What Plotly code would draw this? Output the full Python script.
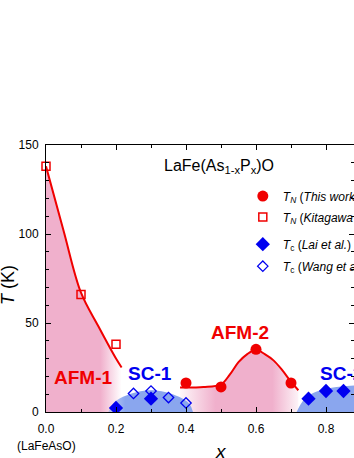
import plotly.graph_objects as go

tn_this_x = [0.4, 0.5, 0.6, 0.7]
tn_this_y = [16.3, 14.1, 35.2, 16.3]
tn_kit_x = [0.0, 0.1, 0.2]
tn_kit_y = [138, 66, 38]
tc_lai_x = [0.2, 0.3, 0.75, 0.8, 0.85]
tc_lai_y = [2.3, 7.5, 7.5, 11.8, 11.8]
tc_wang_x = [0.25, 0.3, 0.35, 0.4]
tc_wang_y = [10.4, 11.8, 8.1, 5.1]

# guide-to-eye curves and phase domes
afm1_x = [0.0, 0.05, 0.1, 0.15, 0.2, 0.216]
afm1_y = [138, 102, 67, 48, 30, 25]
afm2_x = [0.383, 0.42, 0.45, 0.5, 0.525, 0.55, 0.575, 0.6, 0.625, 0.65, 0.675, 0.7, 0.721]
afm2_y = [13.7, 13.8, 14, 15.5, 21, 28, 32.5, 35, 32.5, 29, 23.5, 17, 12.2]
sc1_x = [0.178, 0.19, 0.22, 0.26, 0.3, 0.34, 0.38, 0.41, 0.42]
sc1_y = [0, 4.5, 8.5, 11.3, 12.2, 11.3, 8.5, 4.5, 0]
sc2_x = [0.716, 0.73, 0.745, 0.77, 0.802, 0.83, 0.86, 0.9, 0.95]
sc2_y = [0, 5, 8.5, 11.2, 13, 14, 14.6, 15, 15]

RED = "#f00000"
BLUE = "#0000f0"
PINK = "rgba(240,176,204,1)"
PINK0 = "rgba(240,176,204,0)"
LBLUE = "rgba(138,166,238,1)"
FONT = "Arial, Liberation Sans, sans-serif"

fig = go.Figure()

fig.add_trace(go.Scatter(
    x=afm1_x, y=afm1_y, mode="lines", line=dict(width=0, shape="spline"),
    fill="tozeroy",
    fillgradient=dict(type="horizontal", colorscale=[[0, PINK], [0.72, PINK], [1, PINK0]]),
    showlegend=False, hoverinfo="skip"))
fig.add_trace(go.Scatter(
    x=afm2_x, y=afm2_y, mode="lines", line=dict(width=0, shape="spline"),
    fill="tozeroy",
    fillgradient=dict(type="horizontal", colorscale=[[0, "rgba(240,176,204,0.1)"], [0.3, PINK],
                                                     [0.78, PINK], [1, "rgba(240,176,204,0.15)"]]),
    showlegend=False, hoverinfo="skip"))
fig.add_trace(go.Scatter(
    x=sc1_x, y=sc1_y, mode="lines", line=dict(width=0, shape="spline"),
    fill="tozeroy",
    fillgradient=dict(type="horizontal", colorscale=[[0, "rgba(138,166,238,0.5)"], [0.2, LBLUE], [1, LBLUE]]),
    showlegend=False, hoverinfo="skip"))
fig.add_trace(go.Scatter(
    x=sc2_x, y=sc2_y, mode="lines", line=dict(width=0, shape="spline"),
    fill="tozeroy", fillcolor=LBLUE, showlegend=False, hoverinfo="skip"))

fig.add_trace(go.Scatter(x=afm1_x, y=afm1_y, mode="lines",
                         line=dict(color=RED, width=2, shape="spline"), showlegend=False, hoverinfo="skip"))
fig.add_trace(go.Scatter(x=afm2_x, y=afm2_y, mode="lines",
                         line=dict(color=RED, width=2, shape="spline"), showlegend=False, hoverinfo="skip"))

# T_N entries go in the first legend, T_c entries in the second one
fig.add_trace(go.Scatter(
    x=tn_this_x, y=tn_this_y, mode="markers", legend="legend", legendgroup="a",
    name="<i>T</i><sub><i>N</i></sub> (<i>This work</i>)",
    marker=dict(symbol="circle", size=11, color=RED)))
fig.add_trace(go.Scatter(
    x=tn_kit_x, y=tn_kit_y, mode="markers", legend="legend", legendgroup="b",
    name="<i>T</i><sub><i>N</i></sub> (<i>Kitagawa et al.</i>)",
    marker=dict(symbol="square-open", size=8, color=RED, line=dict(width=1.5, color=RED)), cliponaxis=False))
fig.add_trace(go.Scatter(
    x=tc_lai_x, y=tc_lai_y, mode="markers", legend="legend2", legendgroup="c",
    name="<i>T</i><sub>c</sub> (<i>Lai et al.</i>)",
    marker=dict(symbol="diamond", size=11, color=BLUE)))
fig.add_trace(go.Scatter(
    x=tc_wang_x, y=tc_wang_y, mode="markers", legend="legend2", legendgroup="d",
    name="<i>T</i><sub>c</sub> (<i>Wang et al.</i>)",
    marker=dict(symbol="diamond-open", size=8, color=BLUE, line=dict(width=1.3, color=BLUE))))

labels = [
    ("AFM-1", 0.106, 19.3, RED, "center"),
    ("SC-1", 0.297, 21.8, BLUE, "center"),
    ("AFM-2", 0.554, 44.6, RED, "center"),
    ("SC-2", 0.778, 21.8, BLUE, "left"),
]
for txt, lx, ly, col, anc in labels:
    fig.add_annotation(x=lx, y=ly, text=txt, showarrow=False, xanchor=anc, yanchor="middle",
                       font=dict(family=FONT, size=19, color=col, weight="bold"))

fig.add_annotation(x=0.494, y=138, text="LaFe(As<sub>1-x</sub>P<sub>x</sub>)O", showarrow=False,
                   yanchor="middle", font=dict(family=FONT, size=16, color="black"))
fig.add_annotation(x=0.0, y=-0.127, xref="x", yref="paper", text="(LaFeAsO)", showarrow=False,
                   xanchor="center", yanchor="middle", font=dict(family=FONT, size=12, color="black"))
fig.add_annotation(x=0.5, y=-0.148, xref="x", yref="paper", text="<i>x</i>", showarrow=False,
                   xanchor="center", yanchor="middle", font=dict(family=FONT, size=19, color="black"))
fig.add_annotation(x=-0.123, y=0.476, xref="paper", yref="paper", text="<i>T</i> (K)", showarrow=False,
                   xanchor="center", yanchor="middle", textangle=-90,
                   font=dict(family=FONT, size=18, color="black"))

axis_common = dict(showline=True, linecolor="black", linewidth=1, mirror="ticks",
                   ticks="inside", ticklen=5, tickcolor="black", showgrid=False, zeroline=False,
                   tickfont=dict(family=FONT, size=12, color="black"))
fig.update_xaxes(range=[0, 0.88], dtick=0.2, tick0=0, tickformat=".1f", ticklabelstandoff=6,
                 minor=dict(dtick=0.1, ticks="inside", ticklen=3, tickcolor="black"), **axis_common)
fig.update_yaxes(range=[0, 150], dtick=50, tick0=0, ticklabelstandoff=4,
                 minor=dict(dtick=10, ticks="inside", ticklen=3, tickcolor="black"), **axis_common)

leg = dict(xanchor="left", yanchor="top", bgcolor="rgba(0,0,0,0)", traceorder="grouped",
           font=dict(family=FONT, size=12))
fig.update_layout(
    width=354, height=458,
    margin=dict(l=46, r=0, t=145, b=46, autoexpand=False),
    plot_bgcolor="white", paper_bgcolor="white",
    font=dict(family=FONT, color="black"),
    legend=dict(x=0.639, y=0.863, tracegroupgap=2, **leg),
    legend2=dict(x=0.639, y=0.683, tracegroupgap=3, **leg),
)

# drop the page's default body margin so the figure sits at the window's corner
fig.write_html("out.html", config={"displayModeBar": False},
               post_script="document.body.style.margin = '0px';")
